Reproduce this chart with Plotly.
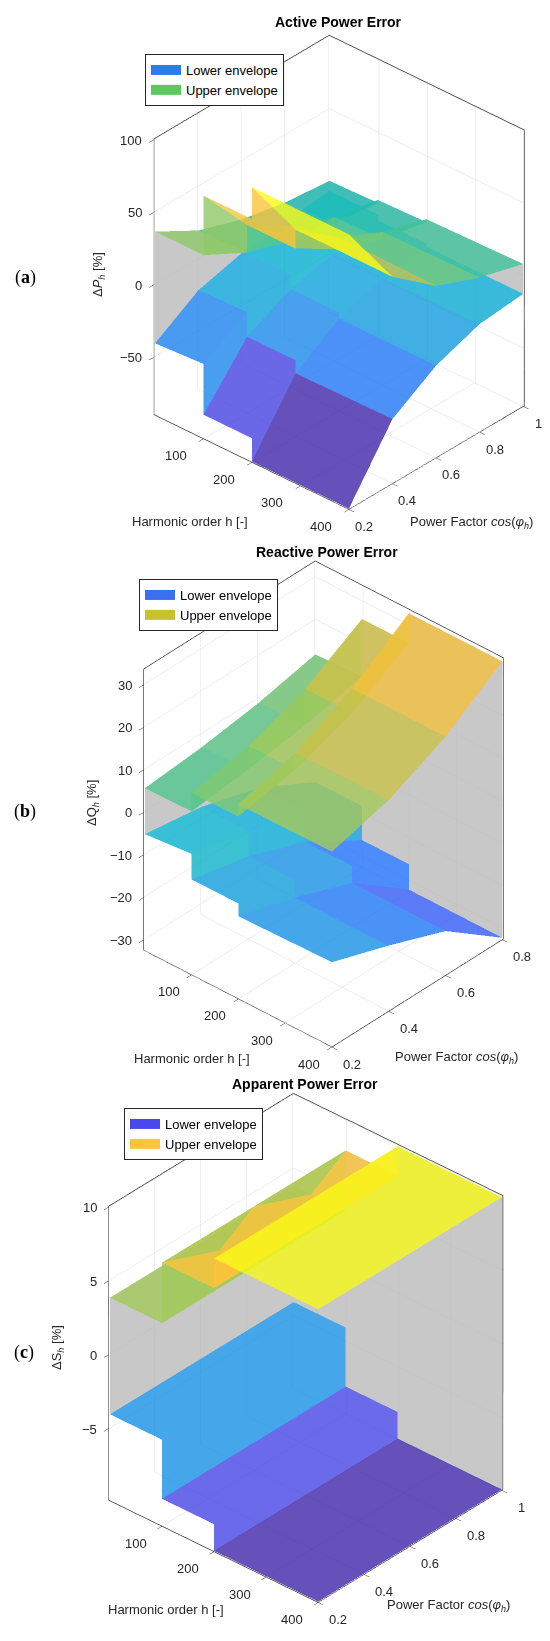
import numpy as np
import plotly.graph_objects as go

# harmonic order nodes (duplicated nodes give the vertical steps)
H_NODES = [0, 100, 100, 200, 200, 400]
H_TICKS = [100, 200, 300, 400]

# (a) active power error
PF_A = [0.2, 0.4, 0.6, 0.8, 1.0]
LOWER_A = [
    [-40, -21, -13, -9, -6],
    [-38, -20, -12, -8, -6],
    [-73, -37, -22, -15, -10],
    [-73, -37, -22, -15, -10],
    [-89, -46, -26, -16, -12],
    [-89, -45, -26, -15, -12],
]
UPPER_A = [
    [37, 20, 10, 4, 1],
    [37, 21, 11, 5, 2],
    [78, 40, 22, 10, 4],
    [78, 40, 22, 11, 5],
    [100, 53, 30, 16, 7],
    [100, 53, 29, 17, 8.6],
]

# (b) reactive power error
PF_B = [0.2, 0.4, 0.6, 0.8]
LOWER_B = [
    [-5, -7, -11, -18],
    [-4, -7, -11, -18],
    [-10, -13, -18, -26],
    [-10, -13, -18, -26],
    [-13, -17, -22, -32],
    [-12.5, -17, -22, -32],
]
UPPER_B = [
    [5.8, 7, 9, 12],
    [6, 7.5, 9.5, 12.5],
    [10.3, 13, 18, 26],
    [10.5, 13, 18, 26],
    [13.3, 17, 23.7, 33],
    [13.5, 17.2, 23.7, 33],
]

# (c) apparent power error
PF_C = [0.2, 0.6, 1.0]
LOWER_C = [
    [-4, -4, -4],
    [-4, -4, -4],
    [-8, -8, -8],
    [-8, -8, -8],
    [-9.8, -9.8, -9.8],
    [-9.8, -9.8, -9.8],
]
UPPER_C = [
    [3.9, 3.9, 3.9],
    [3.9, 3.9, 3.9],
    [8, 8, 8],
    [8, 8, 8],
    [10, 10, 10],
    [10, 10, 10],
]

PARULA = [
    [0.0, '#3e26a8'], [0.1, '#4748ed'], [0.2, '#216bfd'], [0.3, '#1793e3'],
    [0.4, '#04adcf'], [0.5, '#1fbcb3'], [0.6, '#5ec98a'], [0.7, '#a9c957'],
    [0.8, '#e5bd40'], [0.9, '#fdc43b'], [0.95, '#f5e626'], [1.0, '#f9fb14'],
]
WALL_GRAY = '#bababa'
FLAT = dict(ambient=1.0, diffuse=0.0, specular=0.0, roughness=1.0, fresnel=0.0)
FONT = 'Liberation Sans'
INK = '#262626'
W, H = 550, 1641
PAGE_OFF = 8  # the html body margin shifts the whole figure


def view(az_deg, el_deg):
    az, el = np.radians(az_deg), np.radians(el_deg)
    eye = np.array([np.cos(el) * np.cos(az), np.cos(el) * np.sin(az), np.sin(el)])
    right = np.array([-np.sin(az), np.cos(az), 0.0])
    up = np.array([-np.cos(az) * np.sin(el), -np.sin(az) * np.sin(el), np.cos(el)])
    return eye, right, up


def quad_mesh(X, Y, Z):
    X = np.asarray(X, float)
    Y = np.asarray(Y, float)
    Z = np.asarray(Z, float)
    nr, nc = Z.shape
    idx = np.arange(nr * nc).reshape(nr, nc)
    a = idx[:-1, :-1].ravel()
    b = idx[:-1, 1:].ravel()
    c = idx[1:, 1:].ravel()
    d = idx[1:, :-1].ravel()
    faces = np.concatenate([np.stack([a, b, c], 1), np.stack([a, c, d], 1)])
    cell = np.concatenate([Z[:-1, :-1].ravel()] * 2)  # flat shading: first corner
    return np.stack([X.ravel(), Y.ravel(), Z.ravel()], 1), faces, cell


def scene_mesh(pf, lower, upper, ranges, asp, eye_dir, scene):
    lower = np.asarray(lower, float)
    upper = np.asarray(upper, float)
    cmin = min(lower.min(), upper.min())
    cmax = max(lower.max(), upper.max())
    # walls get a value well above the data so they pick the gray end of the scale
    wall_val = cmax + 0.25 * (cmax - cmin)
    Xg, Yg = np.meshgrid(H_NODES, pf, indexing='ij')
    parts = [
        # back walls between the envelopes (first harmonic order, largest power factor)
        quad_mesh([[H_NODES[0]] * len(pf)] * 2, [pf, pf], [lower[0], upper[0]]) + (True,),
        quad_mesh([H_NODES, H_NODES], [[pf[-1]] * len(H_NODES)] * 2,
                  [lower[:, -1], upper[:, -1]]) + (True,),
        quad_mesh(Xg, Yg, lower) + (False,),
        quad_mesh(Xg, Yg, upper) + (False,),
    ]
    lo = np.array([r[0] for r in ranges])
    span = np.array([r[1] - r[0] for r in ranges])
    verts, faces, vals, depth = [], [], [], []
    off = 0
    for v, f, c, is_wall in parts:
        verts.append(v)
        faces.append(f + off)
        vals.append(np.full(len(f), wall_val) if is_wall else c)
        cen = v[f].mean(axis=1)
        d = ((cen - lo) / span * np.asarray(asp)) @ eye_dir
        depth.append(d - 100 if is_wall else d)
        off += len(v)
    verts = np.concatenate(verts)
    faces = np.concatenate(faces)
    vals = np.concatenate(vals)
    order = np.argsort(np.concatenate(depth), kind='stable')  # back to front
    faces, vals = faces[order], vals[order]
    f = (cmax - cmin) / (wall_val - cmin)
    cs = [[s * f, col] for s, col in PARULA] + [[f + 0.05, WALL_GRAY], [1.0, WALL_GRAY]]
    return go.Mesh3d(x=verts[:, 0], y=verts[:, 1], z=verts[:, 2],
                     i=faces[:, 0], j=faces[:, 1], k=faces[:, 2],
                     intensity=vals, intensitymode='cell', colorscale=cs,
                     cmin=cmin, cmax=wall_val, showscale=False, opacity=0.8,
                     flatshading=True, lighting=FLAT, hoverinfo='skip',
                     showlegend=False, scene=scene)


def legend_entry(name, color, scene, legend):
    return go.Scatter3d(x=[None], y=[None], z=[None], mode='lines', name=name,
                        line=dict(color=color, width=10), scene=scene, legend=legend,
                        hoverinfo='skip')


def axis(rng, tickvals):
    return dict(range=rng, tickvals=tickvals, showticklabels=False, showbackground=False,
                gridcolor='#dcdcdc', gridwidth=1, showline=True, linecolor=INK,
                linewidth=1.5, ticks='outside', ticklen=7, tickcolor=INK,
                zeroline=False, showspikes=False, title=dict(text=''), mirror=True)


def tick_notes(pf, zr, zt, pft, hshift, pfshift):
    tf = dict(family=FONT, size=13, color=INK)
    notes = []
    for h in H_TICKS:
        notes.append(dict(x=h, y=pf[0], z=zr[0], text=str(h), showarrow=False, font=tf,
                          xanchor='center', yanchor='middle', xshift=hshift, yshift=-17))
    for v in pft:
        notes.append(dict(x=H_NODES[-1], y=v, z=zr[0], text=f'{v:g}', showarrow=False, font=tf,
                          xanchor='center', yanchor='middle', xshift=pfshift, yshift=-17))
    for v in zt:
        txt = f'{v:g}'.replace('-', '\u2212')
        notes.append(dict(x=H_NODES[0], y=pf[0], z=v, text=txt, showarrow=False, font=tf,
                          xanchor='right', yanchor='middle', xshift=-11))
    return notes


panels = [
    dict(pf=PF_A, lo=LOWER_A, up=UPPER_A, zr=[-89, 100], zt=[-50, 0, 50, 100],
         pft=[0.2, 0.4, 0.6, 0.8, 1.0], az=-47.8, el=32.4, asp=(0.975, 0.967, 1.210),
         dy=[0, 540], shift=(56.3, -5.7), k=271, hs=-28, ps=15,
         leg=['#2b7bea', '#5cc85e']),
    dict(pf=PF_B, lo=LOWER_B, up=UPPER_B, zr=[-32.25, 33.5], zt=[-30, -20, -10, 0, 10, 20, 30],
         pft=[0.2, 0.4, 0.6, 0.8], az=-47.9, el=34.7, asp=(0.957, 0.965, 1.291),
         dy=[540, 1070], shift=(40.7, -9.0), k=266, hs=-23, ps=20,
         leg=['#3a6ff0', '#c9c030']),
    dict(pf=PF_C, lo=LOWER_C, up=UPPER_C, zr=[-9.8, 10], zt=[-5, 0, 5, 10],
         pft=[0.2, 0.4, 0.6, 0.8, 1.0], az=-48.2, el=33.1, asp=(1.031, 1.017, 1.288),
         dy=[1075, 1620], shift=(22.9, -7.6), k=273.6, hs=-26, ps=20,
         leg=['#4748ed', '#fdc43b']),
]

fig = go.Figure()
layout = {}
for n, p in enumerate(panels):
    scene = 'scene' if n == 0 else f'scene{n + 1}'
    legend = 'legend' if n == 0 else f'legend{n + 1}'
    eye_dir, right, up = view(p['az'], p['el'])
    # small margins keep the walls off the (hidden) back planes of the box
    xr = [H_NODES[0] - 0.006 * (H_NODES[-1] - H_NODES[0]), H_NODES[-1]]
    yr = [p['pf'][0], p['pf'][-1] + 0.006 * (p['pf'][-1] - p['pf'][0])]
    eps = 0.003 * (p['zr'][1] - p['zr'][0])
    zr = [p['zr'][0] - eps, p['zr'][1] + eps]
    fig.add_trace(scene_mesh(p['pf'], p['lo'], p['up'], [xr, yr, zr], p['asp'], eye_dir, scene))
    for name, col in zip(['Lower envelope', 'Upper envelope'], p['leg']):
        fig.add_trace(legend_entry(name, col, scene, legend))
    dx, dy = p['shift']
    look = -(dx / p['k']) * right + (dy / p['k']) * up
    eye = look + eye_dir * 1.7
    sx, sy, sz = p['asp']
    layout[scene] = dict(
        domain=dict(x=[0, 1], y=[1 - p['dy'][1] / H, 1 - p['dy'][0] / H]),
        xaxis=axis(xr, H_TICKS),
        yaxis=axis(yr, p['pft']),
        zaxis=axis(zr, p['zt']),
        aspectmode='manual', aspectratio=dict(x=sx, y=sy, z=sz),
        camera=dict(eye=dict(x=eye[0], y=eye[1], z=eye[2]), up=dict(x=0, y=0, z=1),
                    center=dict(x=look[0], y=look[1], z=look[2]),
                    projection=dict(type='orthographic')),
        annotations=tick_notes(p['pf'], zr, p['zt'], p['pft'], p['hs'], p['ps']),
        bgcolor='rgba(0,0,0,0)',
    )

legend_pos = [(145, 54), (139, 579), (124, 1108)]
for n, (lx, ly) in enumerate(legend_pos):
    key = 'legend' if n == 0 else f'legend{n + 1}'
    layout[key] = dict(x=(lx - PAGE_OFF) / W, y=1 - (ly - PAGE_OFF) / H,
                       xanchor='left', yanchor='top',
                       bgcolor='white', bordercolor=INK, borderwidth=1,
                       font=dict(family=FONT, size=13, color='#000'), tracegroupgap=0)


def ann(text, x, y, size=13, angle=0, family=FONT, color=INK):
    return dict(text=text, x=(x - PAGE_OFF) / W, y=1 - (y - PAGE_OFF) / H,
                xref='paper', yref='paper', showarrow=False,
                xanchor='center', yanchor='middle', textangle=angle,
                font=dict(family=family, size=size, color=color))


annotations = [
    ann('<b>Active Power Error</b>', 338, 22, 14, color='#000'),
    ann('<b>Reactive Power Error</b>', 327, 552, 14, color='#000'),
    ann('<b>Apparent Power Error</b>', 305, 1084, 14, color='#000'),
    ann('(<b>a</b>)', 25, 278, 18, family='Liberation Serif', color='#000'),
    ann('(<b>b</b>)', 25, 812, 18, family='Liberation Serif', color='#000'),
    ann('(<b>c</b>)', 24, 1352, 18, family='Liberation Serif', color='#000'),
    ann('Δ<i>P</i><sub><i>h</i></sub> [%]', 98, 275, 13, angle=-90),
    ann('ΔQ<sub><i>h</i></sub> [%]', 92, 803, 13, angle=-90),
    ann('ΔS<sub><i>h</i></sub> [%]', 57, 1348, 13, angle=-90),
    ann('Harmonic order h [-]', 190, 521, 13),
    ann('Harmonic order h [-]', 192, 1058, 13),
    ann('Harmonic order h [-]', 166, 1609, 13),
    ann('Power Factor <i>cos</i>(<i>φ</i><sub><i>h</i></sub>)', 471, 522, 13),
    ann('Power Factor <i>cos</i>(<i>φ</i><sub><i>h</i></sub>)', 456, 1057, 13),
    ann('Power Factor <i>cos</i>(<i>φ</i><sub><i>h</i></sub>)', 449, 1605, 13),
]

fig.update_layout(width=W, height=H, margin=dict(l=0, r=0, t=0, b=0),
                  paper_bgcolor='white', annotations=annotations, **layout)
fig.write_html("out.html")
